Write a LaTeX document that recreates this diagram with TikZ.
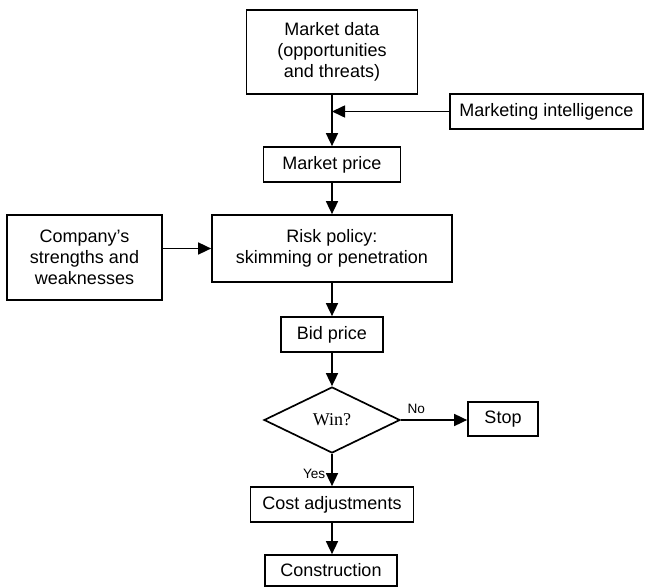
\documentclass[tikz,border=0pt]{standalone}
\usepackage{fontspec}
\setmainfont{Liberation Sans}
\newfontfamily\winfont{Liberation Serif}
\usepackage{tikz}
\usetikzlibrary{arrows.meta,positioning,shapes.geometric}
\tikzset{
  box/.style={draw, line width=0.85pt, align=center, inner sep=0pt, font=\fontsize{9}{10.5}\selectfont},
  decision/.style={box, diamond, aspect=2, font=\winfont\fontsize{9}{10.5}\selectfont},
  edge/.style={-{Triangle[length=6.5pt, width=6pt]}, line width=0.8pt},
  lbl/.style={font=\fontsize{6.8}{8}\selectfont, inner sep=3pt},
}

\begin{document}
\begin{tikzpicture}[x=0.5pt, y=-0.5pt]
  \useasboundingbox (0,0) rectangle (647,587);
  \node[box, minimum width=85.5pt, minimum height=42pt] (mdata) at (332,52) {Market data\\(opportunities\\and threats)};
  \node[box, minimum width=96.5pt, minimum height=17.5pt] (intel) at (546.5,111.5) {Marketing intelligence};
  \node[box, minimum width=68.5pt, minimum height=17.5pt] (mprice) at (332,164.5) {Market price};
  \node[box, minimum width=77.5pt, minimum height=42.5pt] (company) at (84.5,257.5) {Company’s\\strengths and\\weaknesses};
  \node[box, minimum width=120pt, minimum height=33.5pt] (risk) at (332,248.5) {Risk policy:\\skimming or penetration};
  \node[box, minimum width=51pt, minimum height=17.5pt] (bid) at (332,334.5) {Bid price};
  \node[decision, minimum width=68pt, minimum height=33pt] (win) at (332,420) {Win?};
  \node[box, minimum width=35pt, minimum height=17pt] (stop) at (503,419) {Stop};
  \node[box, minimum width=81.5pt, minimum height=17.5pt] (cost) at (332,504.5) {Cost adjustments};
  \node[box, minimum width=66pt, minimum height=15.5pt] (constr) at (331,570.5) {Construction};

  \draw[edge] (mdata) -- (mprice);
  \draw[edge] (intel.west) -- (intel.west -| mdata);
  \draw[edge] (mprice) -- (risk);
  \draw[edge] (company.east |- risk) -- (risk.west);
  \draw[edge] (risk) -- (bid);
  \draw[edge] (bid) -- (win);
  \draw[edge] (win.east) -- node[lbl, above right, pos=0]{No} (stop.west |- win.east);
  \draw[edge] (win.south) -- node[lbl, left, pos=0.62]{Yes} (cost);
  \draw[edge] (cost) -- (cost |- constr.north);
\end{tikzpicture}
\end{document}
